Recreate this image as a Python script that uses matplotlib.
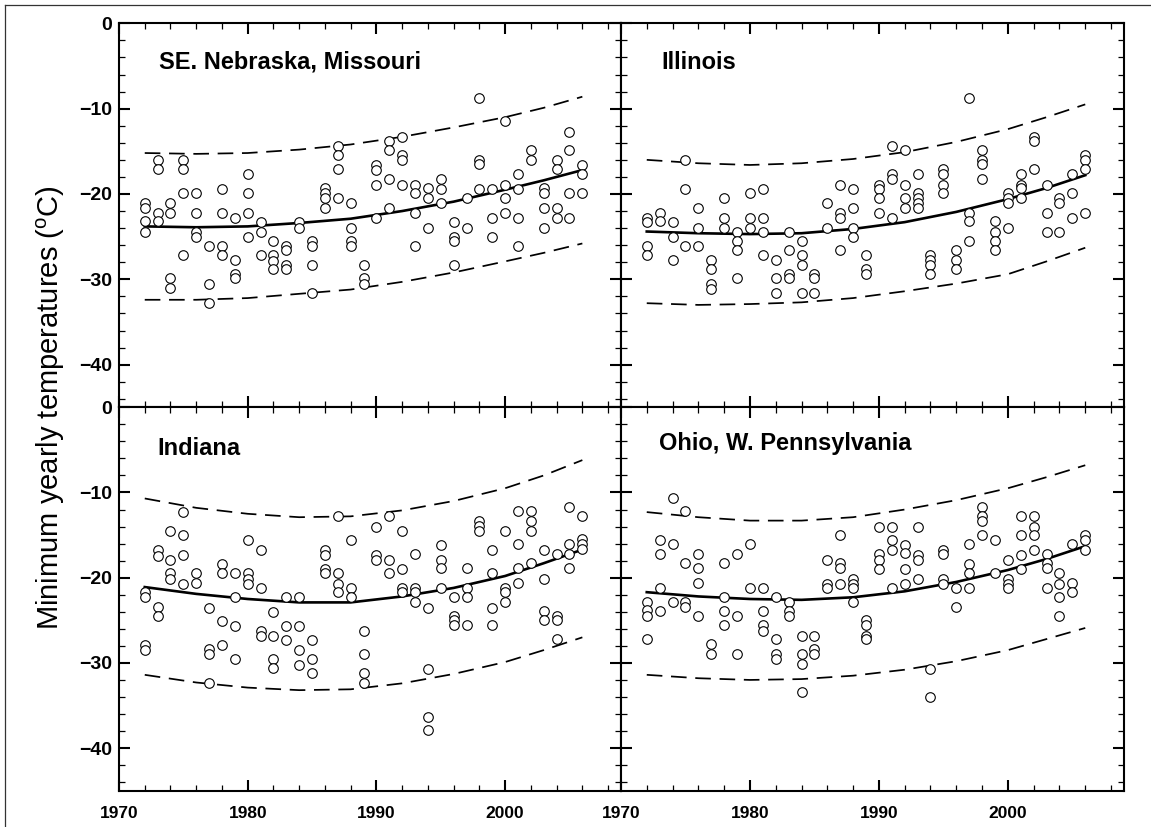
import numpy as np
import matplotlib
matplotlib.use('Agg')
import matplotlib.pyplot as plt
from matplotlib.lines import Line2D
from matplotlib.ticker import MultipleLocator

plt.rcParams['font.family'] = ['Liberation Sans', 'DejaVu Sans']
plt.rcParams['mathtext.fontset'] = 'custom'
plt.rcParams['mathtext.rm'] = 'Liberation Sans'

# years with observations (one list of minima per year)
years = list(range(1972, 2007))

nebraska = [
    [-21.1, -21.6, -23.2, -24.4], [-16.0, -17.1, -22.2, -23.2],
    [-21.1, -22.2, -29.9, -31.0], [-16.0, -17.1, -19.9, -27.2],
    [-19.9, -22.2, -24.4, -25.1], [-26.1, -30.6, -32.8],
    [-19.4, -22.2, -26.1, -27.2], [-22.8, -27.7, -29.4, -29.9],
    [-17.7, -19.9, -22.2, -25.0], [-23.3, -24.4, -27.2],
    [-25.5, -27.2, -27.9, -28.8], [-26.1, -26.6, -28.3, -28.8],
    [-23.3, -24.0], [-25.5, -26.1, -28.3, -31.6],
    [-19.3, -19.9, -20.5, -21.7], [-14.4, -15.4, -17.1, -20.5],
    [-21.1, -24.0, -25.5, -26.1], [-28.3, -29.9, -30.6],
    [-16.6, -17.2, -18.9, -22.8], [-13.8, -14.9, -18.3, -21.7],
    [-13.3, -15.4, -16.0, -18.9], [-18.9, -19.9, -22.2, -26.1],
    [-19.3, -20.5, -24.0], [-18.3, -19.4, -21.1],
    [-23.3, -25.0, -25.5, -28.3], [-20.5, -24.0],
    [-8.8, -16.0, -16.5, -19.4], [-19.4, -22.8, -25.0],
    [-11.5, -18.9, -20.5, -22.2], [-17.7, -19.4, -22.8, -26.1],
    [-14.9, -16.0], [-19.3, -19.9, -21.7, -24.0],
    [-16.0, -17.1, -21.7, -22.8], [-12.7, -14.9, -19.9, -22.8],
    [-16.6, -17.7, -19.9],
]

illinois = [
    [-22.8, -23.3, -26.1, -27.2], [-22.2, -23.2],
    [-23.3, -25.0, -27.7], [-16.0, -19.4, -26.1],
    [-21.7, -24.0, -26.1], [-27.7, -28.8, -30.6, -31.1],
    [-20.5, -22.8, -24.0], [-24.4, -25.5, -26.6, -29.9],
    [-19.9, -22.8, -24.0], [-19.4, -22.8, -24.4, -27.2],
    [-27.7, -29.9, -31.6], [-24.4, -26.6, -29.4, -29.9],
    [-25.5, -27.2, -28.3, -31.6], [-29.4, -29.9, -31.6],
    [-21.1, -24.0], [-18.9, -22.2, -22.8, -26.6],
    [-19.4, -21.7, -24.0, -25.0], [-27.2, -28.8, -29.4],
    [-18.9, -19.4, -20.5, -22.2], [-14.4, -17.7, -18.3, -22.8],
    [-14.9, -18.9, -20.5, -21.7], [-17.7, -19.9, -20.5, -21.1, -21.7],
    [-27.2, -27.7, -28.3, -29.4], [-17.1, -17.7, -18.9, -19.9],
    [-26.6, -27.7, -28.8], [-8.8, -22.2, -23.2, -25.5],
    [-14.9, -16.0, -16.5, -18.3], [-23.2, -24.4, -25.5, -26.6],
    [-19.9, -20.5, -21.1, -24.0], [-17.7, -18.9, -19.3, -20.5],
    [-13.3, -13.8, -17.1], [-18.9, -22.2, -24.4],
    [-20.5, -21.1, -24.4], [-17.7, -19.9, -22.8],
    [-15.4, -16.0, -17.1, -22.2],
]

indiana = [
    [-21.7, -22.3, -27.9, -28.5], [-16.8, -17.4, -23.4, -24.5],
    [-14.5, -17.9, -19.5, -20.1], [-12.3, -15.0, -17.3, -20.7],
    [-19.5, -20.6], [-23.5, -28.4, -29.0, -32.4],
    [-18.4, -19.5, -25.1, -27.9], [-19.5, -22.3, -25.7, -29.6],
    [-15.6, -19.5, -20.1, -20.7], [-16.8, -21.2, -26.2, -26.8],
    [-24.0, -26.8, -29.6, -30.6], [-22.3, -25.7, -27.3],
    [-22.3, -25.7, -28.5, -30.2], [-27.3, -29.6, -31.2],
    [-16.7, -17.3, -19.0, -19.5], [-12.8, -19.5, -20.7, -21.7],
    [-15.6, -21.2, -22.3], [-26.2, -29.0, -31.2, -32.4],
    [-14.0, -17.3, -17.9], [-12.8, -17.9, -19.5],
    [-14.5, -19.0, -21.2, -21.7], [-17.2, -21.2, -21.7, -22.9],
    [-23.5, -30.7, -36.3, -37.9], [-16.2, -17.9, -18.9, -21.2],
    [-22.3, -24.5, -25.0, -25.6], [-18.9, -21.2, -22.3, -25.6],
    [-13.4, -13.9, -14.5], [-16.7, -19.5, -23.5, -25.6],
    [-14.5, -21.2, -21.7, -22.8], [-12.2, -16.1, -18.9, -20.6],
    [-12.2, -13.4, -14.5, -18.3], [-16.7, -20.1, -23.9, -25.0],
    [-17.2, -24.5, -25.0, -27.2], [-11.7, -16.1, -17.2, -18.9],
    [-12.8, -15.4, -16.0, -16.6],
]

ohio = [
    [-22.8, -23.8, -24.5, -27.2], [-15.6, -17.2, -21.2, -23.9],
    [-10.6, -16.1, -22.8], [-12.2, -18.3, -22.8, -23.4],
    [-17.2, -18.9, -20.6, -24.5], [-27.8, -29.0],
    [-18.3, -22.3, -23.9, -25.6], [-17.2, -24.5, -29.0],
    [-16.1, -21.2], [-21.2, -23.9, -25.6, -26.2],
    [-22.3, -27.2, -29.0, -29.5], [-22.8, -23.9, -24.5],
    [-26.8, -29.0, -30.1, -33.4], [-26.8, -28.4, -29.0],
    [-17.9, -20.7, -21.2], [-15.0, -18.3, -18.9, -20.7],
    [-20.1, -20.7, -21.2, -22.9], [-25.0, -25.6, -26.9, -27.2],
    [-14.0, -17.2, -17.9, -19.0], [-14.0, -15.6, -16.7, -21.2],
    [-16.2, -17.1, -19.0, -20.7], [-14.0, -17.3, -17.9, -20.1],
    [-30.7, -34.0], [-16.8, -17.2, -20.1, -20.7],
    [-21.2, -23.4], [-16.1, -18.4, -19.5, -21.2],
    [-11.7, -12.8, -13.4, -15.0], [-15.6, -19.5],
    [-17.9, -20.1, -20.7, -21.2], [-12.8, -15.0, -17.3, -19.0],
    [-12.8, -14.0, -15.0, -16.8], [-17.2, -18.3, -18.9, -21.2],
    [-19.5, -20.7, -22.3, -24.5], [-16.1, -20.6, -21.7],
    [-15.0, -15.6, -16.7],
]

# fitted trend and prediction band, read at these years
curve_years = [1972, 1976, 1980, 1984, 1988, 1992, 1996, 2000, 2003, 2006]

nebraska_fit = [-23.8, -23.9, -23.8, -23.4, -22.9, -22.0, -20.9, -19.5, -18.4, -17.2]
nebraska_hi = [-15.2, -15.3, -15.2, -14.8, -14.2, -13.3, -12.2, -11.0, -9.9, -8.6]
nebraska_lo = [-32.4, -32.4, -32.2, -31.7, -31.2, -30.3, -29.2, -27.9, -26.9, -25.8]

illinois_fit = [-24.4, -24.6, -24.7, -24.6, -24.1, -23.3, -22.1, -20.6, -19.3, -17.8]
illinois_hi = [-16.0, -16.4, -16.6, -16.4, -15.9, -15.1, -13.9, -12.4, -11.0, -9.5]
illinois_lo = [-32.8, -33.0, -32.9, -32.7, -32.2, -31.4, -30.5, -29.4, -27.9, -26.3]

indiana_fit = [-21.1, -21.9, -22.5, -22.9, -22.9, -22.2, -21.2, -19.8, -18.3, -16.7]
indiana_hi = [-10.7, -11.8, -12.5, -12.9, -12.8, -12.1, -11.0, -9.5, -8.0, -6.2]
indiana_lo = [-31.4, -32.3, -32.9, -33.2, -33.1, -32.4, -31.3, -29.9, -28.5, -27.0]

ohio_fit = [-21.7, -22.2, -22.5, -22.6, -22.3, -21.6, -20.5, -19.1, -17.8, -16.3]
ohio_hi = [-12.3, -12.9, -13.3, -13.3, -12.9, -12.0, -10.9, -9.5, -8.2, -6.8]
ohio_lo = [-31.4, -31.8, -32.0, -31.9, -31.5, -30.8, -29.8, -28.5, -27.2, -25.9]

panels = [
    ("SE. Nebraska, Missouri", nebraska, nebraska_fit, nebraska_hi, nebraska_lo,
     [0.1034, 0.5075, 0.4361, 0.4643], (0.080, 0.898)),
    ("Illinois", illinois, illinois_fit, illinois_hi, illinois_lo,
     [0.5395, 0.5075, 0.4370, 0.4643], (0.080, 0.898)),
    ("Indiana", indiana, indiana_fit, indiana_hi, indiana_lo,
     [0.1034, 0.0439, 0.4361, 0.4636], (0.076, 0.893)),
    ("Ohio, W. Pennsylvania", ohio, ohio_fit, ohio_hi, ohio_lo,
     [0.5395, 0.0439, 0.4370, 0.4636], (0.076, 0.906)),
]

fig = plt.figure(figsize=(11.51, 8.27), dpi=100)

for i, (name, temps, fit, hi, lo, rect, tpos) in enumerate(panels):
    ax = fig.add_axes(rect)
    xs = [y for y, vals in zip(years, temps) for _ in vals]
    ys = [v for vals in temps for v in vals]

    ax.plot(curve_years, fit, color='black', lw=1.9, zorder=2)
    ax.plot(curve_years, hi, color='black', lw=1.25, dashes=(9, 5), zorder=2)
    ax.plot(curve_years, lo, color='black', lw=1.25, dashes=(9, 5), zorder=2)
    ax.plot(xs, ys, 'o', ms=6.9, mfc='white', mec='black', mew=0.8,
            zorder=3, clip_on=False)

    ax.set_xlim(1970, 2009)
    ax.set_ylim(-45, 0)
    ax.xaxis.set_major_locator(MultipleLocator(10))
    ax.xaxis.set_minor_locator(MultipleLocator(2))
    ax.yaxis.set_major_locator(MultipleLocator(10))
    ax.yaxis.set_minor_locator(MultipleLocator(2))
    ax.tick_params(which='both', direction='in', top=True, right=True)
    ax.tick_params(which='major', length=8, width=1.5)
    ax.tick_params(which='minor', length=4.5, width=0.9)
    ax.tick_params(axis='y', pad=5, labelsize=14)
    ax.tick_params(axis='x', pad=11, labelsize=12.5)
    for lab in ax.get_xticklabels() + ax.get_yticklabels():
        lab.set_fontweight('bold')
    for sp in ax.spines.values():
        sp.set_linewidth(1.5)

    if i % 2 == 1:
        ax.tick_params(labelleft=False)
    if i < 2:
        ax.tick_params(labelbottom=False)

    ax.text(tpos[0], tpos[1], name, transform=ax.transAxes, ha='left',
            va='center', fontsize=17, fontweight='bold')

fig.text(0.0443, 0.5075, r'Minimum yearly temperatures ($^{\rm o}$C)',
         rotation=90, ha='center', va='center', fontsize=21)

# thin frame lines on the left and top edges of the original figure
fig.add_artist(Line2D([5 / 1151, 5 / 1151], [0, 1 - 5 / 827],
                      transform=fig.transFigure, color='#333333', lw=0.9))
fig.add_artist(Line2D([5 / 1151, 1], [1 - 5 / 827, 1 - 5 / 827],
                      transform=fig.transFigure, color='#333333', lw=0.9))

fig.savefig('out.png', dpi=100)
